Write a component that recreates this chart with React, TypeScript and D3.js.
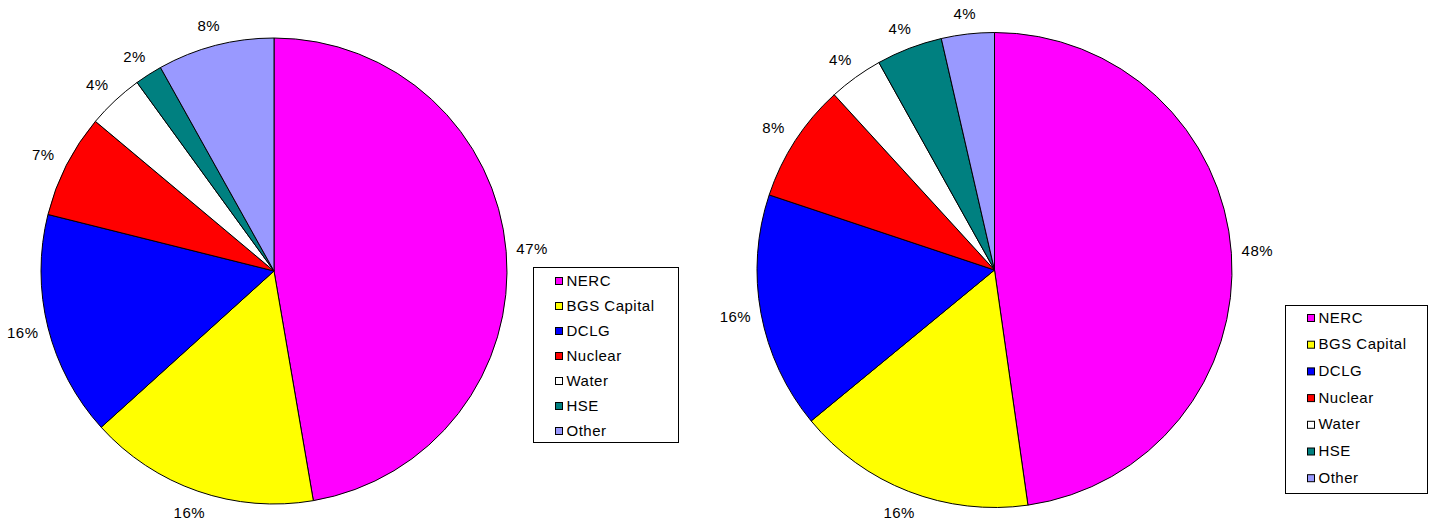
import React from "react";
import * as d3 from "d3";

const categories = ["NERC", "BGS Capital", "DCLG", "Nuclear", "Water", "HSE", "Other"];
const colors = ["#FF00FF", "#FFFF00", "#0000FF", "#FF0000", "#FFFFFF", "#008080", "#9999FF"];
const leftValues = [47.3, 16.0, 15.6, 7.2, 3.9, 1.9, 8.1];
const leftLabels = ["47%", "16%", "16%", "7%", "4%", "2%", "8%"];
const rightValues = [47.8, 16.3, 16.1, 8.1, 3.7, 4.5, 3.6];
const rightLabels = ["48%", "16%", "16%", "8%", "4%", "4%", "4%"];

const FONT = "Arial, 'Liberation Sans', sans-serif";

function Pie({ cx, cy, r, values, labels, labelOffset }: any) {
  const pie = d3.pie<number>().sort(null).value((d) => d);
  const arcs = pie(values);
  const arc = d3.arc<d3.PieArcDatum<number>>().innerRadius(0).outerRadius(r);
  return (
    <g transform={`translate(${cx},${cy})`}>
      {arcs.map((a, i) => (
        <path key={i} d={arc(a) || ""} fill={colors[i]} stroke="#000" strokeWidth={1} />
      ))}
      {arcs.map((a, i) => {
        const mid = (a.startAngle + a.endAngle) / 2;
        const sx = Math.sin(mid);
        const sy = -Math.cos(mid);
        const x = sx * (r + labelOffset + 2);
        const y = sy * (r + labelOffset - 4 * Math.max(0, -sy));
        return (
          <text key={i} x={x} y={y - 1} textAnchor="middle" dominantBaseline="central"
            fontFamily={FONT} fontSize={15} letterSpacing={0.5} fill="#000">
            {labels[i]}
          </text>
        );
      })}
    </g>
  );
}

function Legend({ x, y, w, h, spacing, first }: any) {
  return (
    <g>
      <rect x={x + 0.5} y={y + 0.5} width={w} height={h} fill="#fff" stroke="#000" strokeWidth={1} />
      {categories.map((c, i) => {
        const yy = y + first + i * spacing;
        return (
          <g key={c}>
            <rect x={x + 22.5} y={yy - 3.5} width={7} height={7} fill={colors[i]} stroke="#000" strokeWidth={1} />
            <text x={x + 33.5} y={yy - 1} dominantBaseline="central" fontFamily={FONT} fontSize={15}
              letterSpacing={0.5} fill="#000">
              {c}
            </text>
          </g>
        );
      })}
    </g>
  );
}

export default function App() {
  return (
    <svg width={1431} height={522} style={{ position: "absolute", left: 0, top: 0 }}>
      <rect width={1431} height={522} fill="#fff" />
      <Pie cx={274} cy={271} r={233} values={leftValues} labels={leftLabels} labelOffset={24} />
      <Pie cx={994.5} cy={270} r={237.5} values={rightValues} labels={rightLabels} labelOffset={24} />
      <Legend x={533} y={267} w={145} h={175} spacing={25} first={14} />
      <Legend x={1285} y={305} w={142} h={188} spacing={26.7} first={13} />
    </svg>
  );
}
